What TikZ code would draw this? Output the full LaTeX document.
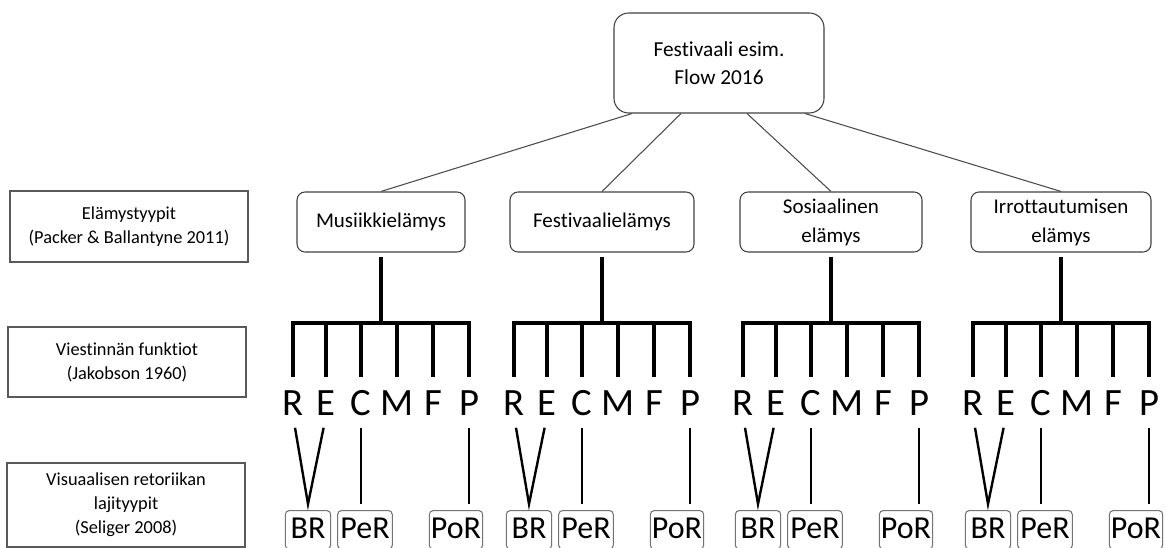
\documentclass[tikz,border=0pt]{standalone}
\usepackage{fontspec}
\setmainfont{Carlito}[RawFeature={-liga;-calt;-dlig}]
\usetikzlibrary{calc}
\tikzset{
  topbox/.style={draw=black!75,line width=0.8pt,rounded corners=11pt,align=center,minimum width=157.5pt,minimum height=75pt,font=\fontsize{16}{21}\selectfont},
  labelbox/.style={draw=black!65,line width=0.9pt,align=center,minimum width=178.5pt,font=\fontsize{13.75}{18}\selectfont},
  expbox/.style={draw=black!75,line width=0.8pt,rounded corners=6pt,align=center,minimum height=45pt,font=\fontsize{15.75}{21.75}\selectfont},
  funletter/.style={anchor=south,inner sep=0pt,text height=18.75pt,text depth=0pt,font=\fontsize{29}{29}\selectfont},
  rhetbox/.style={draw=black!55,line width=0.8pt,rounded corners=3pt,anchor=north,inner xsep=0pt,inner ysep=5.25pt,text height=15.5pt,text depth=3pt,font=\fontsize{24}{24}\selectfont},
  branch/.style={line width=3.2pt},
  vline/.style={line width=1.8pt,shorten <=9pt,shorten >=4.5pt},
  link/.style={draw=black!70,line width=0.8pt},
}
\begin{document}
\begin{tikzpicture}[x=0.75pt,y=-0.75pt,line join=miter]
\useasboundingbox (0,0) rectangle (1166,548);
% yläotsikko
\node[topbox] (top) at (719,63) {Festivaali esim.\\Flow 2016};
% vasemman reunan selitteet
\node[labelbox,minimum height=53.25pt] (lab1) at (129,226.5) {Elämystyypit\\(Packer \& Ballantyne 2011)};
\node[labelbox,minimum height=52.5pt] (lab2) at (127,362) {Viestinnän funktiot\\(Jakobson 1960)};
\node[labelbox,minimum height=63pt] (lab3) at (126,505) {Visuaalisen retoriikan\\lajityypit\\(Seliger 2008)};
% elämystyypit ja niiden haarat
\foreach \g/\s/\w/\dx/\txt in
{
  mus/381/126/-87/Musiikkielämys,
  fes/602/138/-38/Festivaalielämys,
  sos/831/136.5/28/Sosiaalinen\\elämys,
  irr/1061/135/86/Irrottautumisen\\elämys
}
{
  \node[expbox,minimum width=\w pt] (\g) at (\s,222) {\txt};
  \draw[link] ($(top.south)+(\dx,0)$) -- (\g.north);
  \coordinate (\g-bar) at (\s,323);
  \foreach \l/\o in {R/-88,E/-55,C/-20,M/16,F/52,P/88}
  {
    \node[funletter] (\g-\l) at (\s+\o,416) {\l};
  }
  \node[rhetbox,minimum width=34pt] (\g-BR) at (\s-73,510) {BR};
  \node[rhetbox,minimum width=41pt] (\g-PeR) at (\s-16,510) {PeR};
  \node[rhetbox,minimum width=40pt] (\g-PoR) at (\s+75,510) {PoR};
  % kampa
  \draw[branch,shorten <=3pt] (\g.south) -- (\g-bar);
  \draw[branch,shorten <=9.75pt,shorten >=9.75pt] (\g-R.north) |- (\g-bar) -| (\g-P.north);
  \foreach \l in {E,C,M,F}
  {
    \draw[branch,shorten >=9.75pt] (\g-\l.north |- \g-bar) -- (\g-\l.north);
  }
  % retoriikan lajit
  \draw[line width=1.8pt,shorten <=9pt,shorten >=9pt] (\g-R.south) -- ($(\g-BR.north)+(0,-6)$) -- (\g-E.south);
  \draw[vline] (\g-C.south) -- (\g-C.south |- \g-PeR.north);
  \draw[vline] (\g-P.south) -- (\g-P.south |- \g-PoR.north);
}
\end{tikzpicture}
\end{document}
